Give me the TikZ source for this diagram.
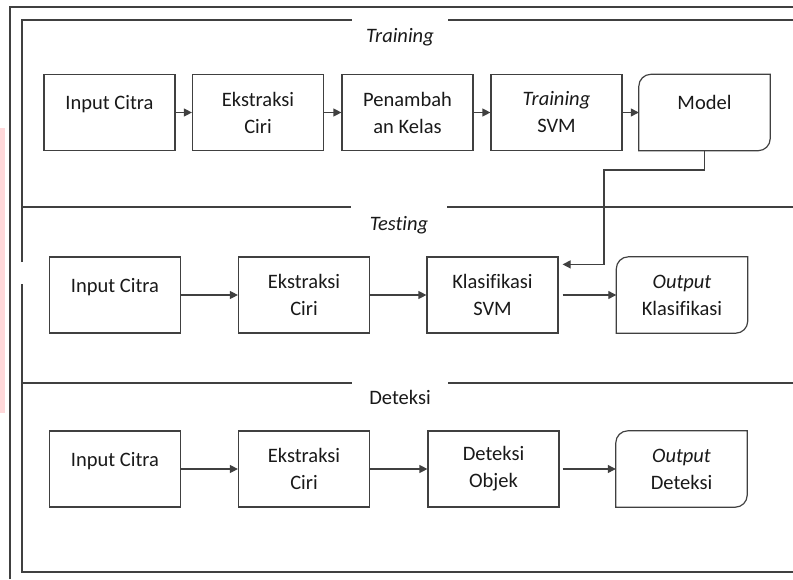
\documentclass[tikz,border=0pt]{standalone}
\usepackage{fontspec}
\setmainfont{Carlito}[Ligatures=NoCommon]
\usetikzlibrary{arrows.meta}
\definecolor{linegray}{RGB}{64,64,64}
\definecolor{stripe}{RGB}{255,216,218}

\begin{document}
\begin{tikzpicture}[x=1pt,y=-1pt,
  font=\fontsize{20.5}{27}\selectfont, text=black!90,
  box/.style={draw=linegray, line width=1.2pt, minimum width=131pt, minimum height=76pt, align=center, inner sep=0pt},
  plainbox/.style={minimum width=131pt, minimum height=76pt, align=center, inner sep=0pt},
  lift/.style={text depth=20pt},
  arr/.style={-{Triangle[length=8pt,width=8pt]}, line width=1.2pt, draw=linegray},
  frame/.style={line width=1.3pt, draw=linegray},
  title/.style={fill=white, minimum width=96pt, minimum height=40pt, inner sep=0pt}]
\useasboundingbox (0,0) rectangle (793,579);
\fill[stripe] (0,128) rectangle (5,413);

% frames
\draw[frame] (10,579) -- (10,7) -- (793,7);
\draw[frame] (22,262) -- (22,20) -- (793,20);
\draw[frame] (22,284) -- (22,572) -- (793,572);
\draw[frame] (22,207) -- (793,207);
\draw[frame] (22,383) -- (793,383);

\node[title] (ttrain) at (400,37) {\textit{Training}};
\node[title] (ttest) at (399,225) {\textit{Testing}};
\node[title] (tdet) at (400,397) {Deteksi};

% training
\node[box,lift] (in1) at (109.5,112.5) {Input Citra};
\node[box] (ek1) at (258,112.5) {Ekstraksi\\Ciri};
\node[box] (pk) at (407.5,112.5) {Penambah\\an Kelas};
\node[box] (tr) at (556.5,112.5) {\textit{Training}\\SVM};
\node[plainbox,lift] (model) at (704.5,112.5) {Model};

% testing
\node[box,lift] (in2) at (115,295) {Input Citra};
\node[box] (ek2) at (304,295) {Ekstraksi\\Ciri};
\node[box] (kls) at (492.5,295) {Klasifikasi\\SVM};
\node[plainbox] (outk) at (682,295) {\textit{Output}\\Klasifikasi};

% deteksi
\node[box,lift] (in3) at (115,469) {Input Citra};
\node[box] (ek3) at (304,469) {Ekstraksi\\Ciri};
\node[box] (det) at (493.5,469) {Deteksi\\Objek};
\node[plainbox] (outd) at (681.5,469) {\textit{Output}\\Deteksi};

\foreach \m in {model,outk,outd}
{
  \draw[draw=linegray, line width=1.2pt] (\m.south west) -- ([yshift=-12pt]\m.north west)
    .. controls ([yshift=-5.4pt]\m.north west) and ([xshift=5.4pt]\m.north west) .. ([xshift=12pt]\m.north west)
    -- (\m.north east) -- ([yshift=12pt]\m.south east)
    .. controls ([yshift=5.4pt]\m.south east) and ([xshift=-5.4pt]\m.south east) .. ([xshift=-12pt]\m.south east)
    -- cycle;
}

\draw[arr] (in1) -- (ek1);
\draw[arr] (ek1) -- (pk);
\draw[arr] (pk) -- (tr);
\draw[arr] (tr) -- (model);

\draw[arr] (in2) -- (ek2);
\draw[arr] (ek2) -- (kls);
\draw[arr, shorten <=4pt] (kls) -- (outk);

\draw[arr] (in3) -- (ek3);
\draw[arr] (ek3) -- (det);
\draw[arr, shorten <=3pt] (det) -- (outd);

\coordinate (mbend) at (604,170);
\draw[arr] (model.south) |- (mbend) |- ([xshift=4pt,yshift=-8pt]kls.north east);
\end{tikzpicture}
\end{document}
